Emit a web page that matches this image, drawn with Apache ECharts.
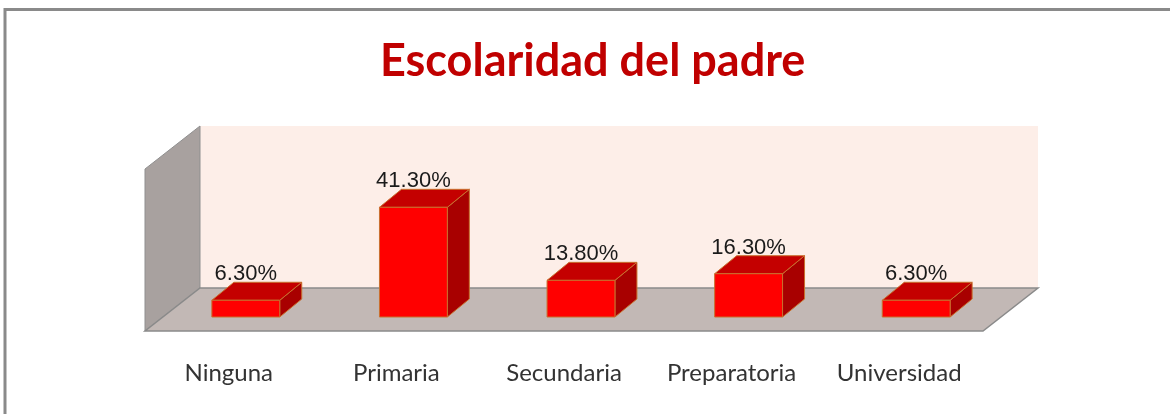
<!DOCTYPE html>
<html>
<head>
<meta charset="utf-8">
<script src="https://cdn.jsdelivr.net/npm/echarts@6/dist/echarts.min.js"></script>
<style>
  html, body { margin: 0; padding: 0; background: #fff; }
  #chart { width: 1170px; height: 414px; }
</style>
</head>
<body>
<div id="chart"></div>
<script>
// datos
const categorias = ['Ninguna', 'Primaria', 'Secundaria', 'Preparatoria', 'Universidad'];
const porcentajes = [6.3, 41.3, 13.8, 16.3, 6.3];
const yMax = 61;

var chart = echarts.init(document.getElementById('chart'));

// profundidad del piso/paredes y de las barras (pixeles)
const DX = 55, DY = -43;
const BDX = 22, BDY = -18;
const OFF_X = 17, OFF_Y = -14;

// piso, pared izquierda y pared del fondo
const renderMarco = function (params, api) {
  const p0 = api.coord([0, 0]);
  const band = api.size([1, 0])[0];
  const x0 = p0[0] - band / 2;
  const x1 = x0 + band * categorias.length;
  const yB = p0[1];
  const yT = api.coord([0, yMax])[1];
  return {
    type: 'group',
    children: [
      {
        type: 'rect',
        shape: { x: x0 + DX, y: yT + DY, width: x1 - x0, height: yB - yT },
        style: { fill: '#FDEEE8', stroke: null }
      },
      {
        type: 'polygon',
        shape: { points: [[x0, yB], [x0 + DX, yB + DY], [x0 + DX, yT + DY], [x0, yT]] },
        style: { fill: '#A8A19F', stroke: '#8f8f8f', lineWidth: 1 }
      },
      {
        type: 'polygon',
        shape: { points: [[x0, yB], [x1, yB], [x1 + DX, yB + DY], [x0 + DX, yB + DY]] },
        style: { fill: '#C2B8B5', stroke: '#8a8a8a', lineWidth: 1.5 }
      }
    ]
  };
};

// barras 3d
const renderBarra = function (params, api) {
  const i = api.value(0), v = api.value(1);
  const base = api.coord([i, 0]);
  const tope = api.coord([i, v]);
  const band = api.size([1, 0])[0];
  const w = band * 0.405;
  const cx = base[0] + OFF_X;
  const yb = base[1] + OFF_Y;
  const yt = tope[1] + OFF_Y;
  const xl = cx - w / 2, xr = cx + w / 2;
  const borde = { stroke: '#C8702E', lineWidth: 1 };
  return {
    type: 'group',
    children: [
      {
        type: 'polygon',
        shape: { points: [[xr, yt], [xr + BDX, yt + BDY], [xr + BDX, yb + BDY], [xr, yb]] },
        style: Object.assign({ fill: '#A80000' }, borde)
      },
      {
        type: 'polygon',
        shape: { points: [[xl, yt], [xr, yt], [xr + BDX, yt + BDY], [xl + BDX, yt + BDY]] },
        style: Object.assign({ fill: '#C40000' }, borde)
      },
      {
        type: 'rect',
        shape: { x: xl, y: yt, width: w, height: yb - yt },
        style: Object.assign({ fill: '#FF0000' }, borde)
      },
      {
        type: 'text',
        style: {
          x: cx, y: yt + BDY - 8,
          text: v.toFixed(2) + '%',
          fill: '#1a1a1a',
          font: '22px "Liberation Sans"',
          align: 'center',
          verticalAlign: 'middle'
        }
      }
    ]
  };
};

chart.setOption({
  animation: false,
  title: {
    text: 'Escolaridad del padre',
    left: 375,
    top: 34,
    textStyle: { color: '#C00000', fontFamily: 'Lato', fontWeight: 'bold', fontSize: 45 }
  },
  graphic: [
    {
      type: 'rect',
      shape: { x: 5, y: 9.5, width: 1300, height: 600 },
      style: { fill: null, stroke: '#8a8a8a', lineWidth: 3 },
      silent: true
    }
  ],
  grid: { left: 145, right: 187, top: 169, bottom: 83 },
  xAxis: {
    type: 'category',
    data: categorias,
    axisLine: { show: false },
    axisTick: { show: false },
    axisLabel: {
      interval: 0,
      hideOverlap: false,
      margin: 30,
      fontFamily: 'Lato',
      fontSize: 24,
      color: '#333'
    }
  },
  yAxis: { type: 'value', min: 0, max: yMax, show: false, splitLine: { show: false } },
  series: [
    {
      type: 'custom',
      renderItem: renderMarco,
      data: [[0, 0]],
      z: 1,
      silent: true
    },
    {
      type: 'custom',
      renderItem: renderBarra,
      data: porcentajes.map((v, i) => [i, v]),
      z: 2
    }
  ]
});
</script>
</body>
</html>
